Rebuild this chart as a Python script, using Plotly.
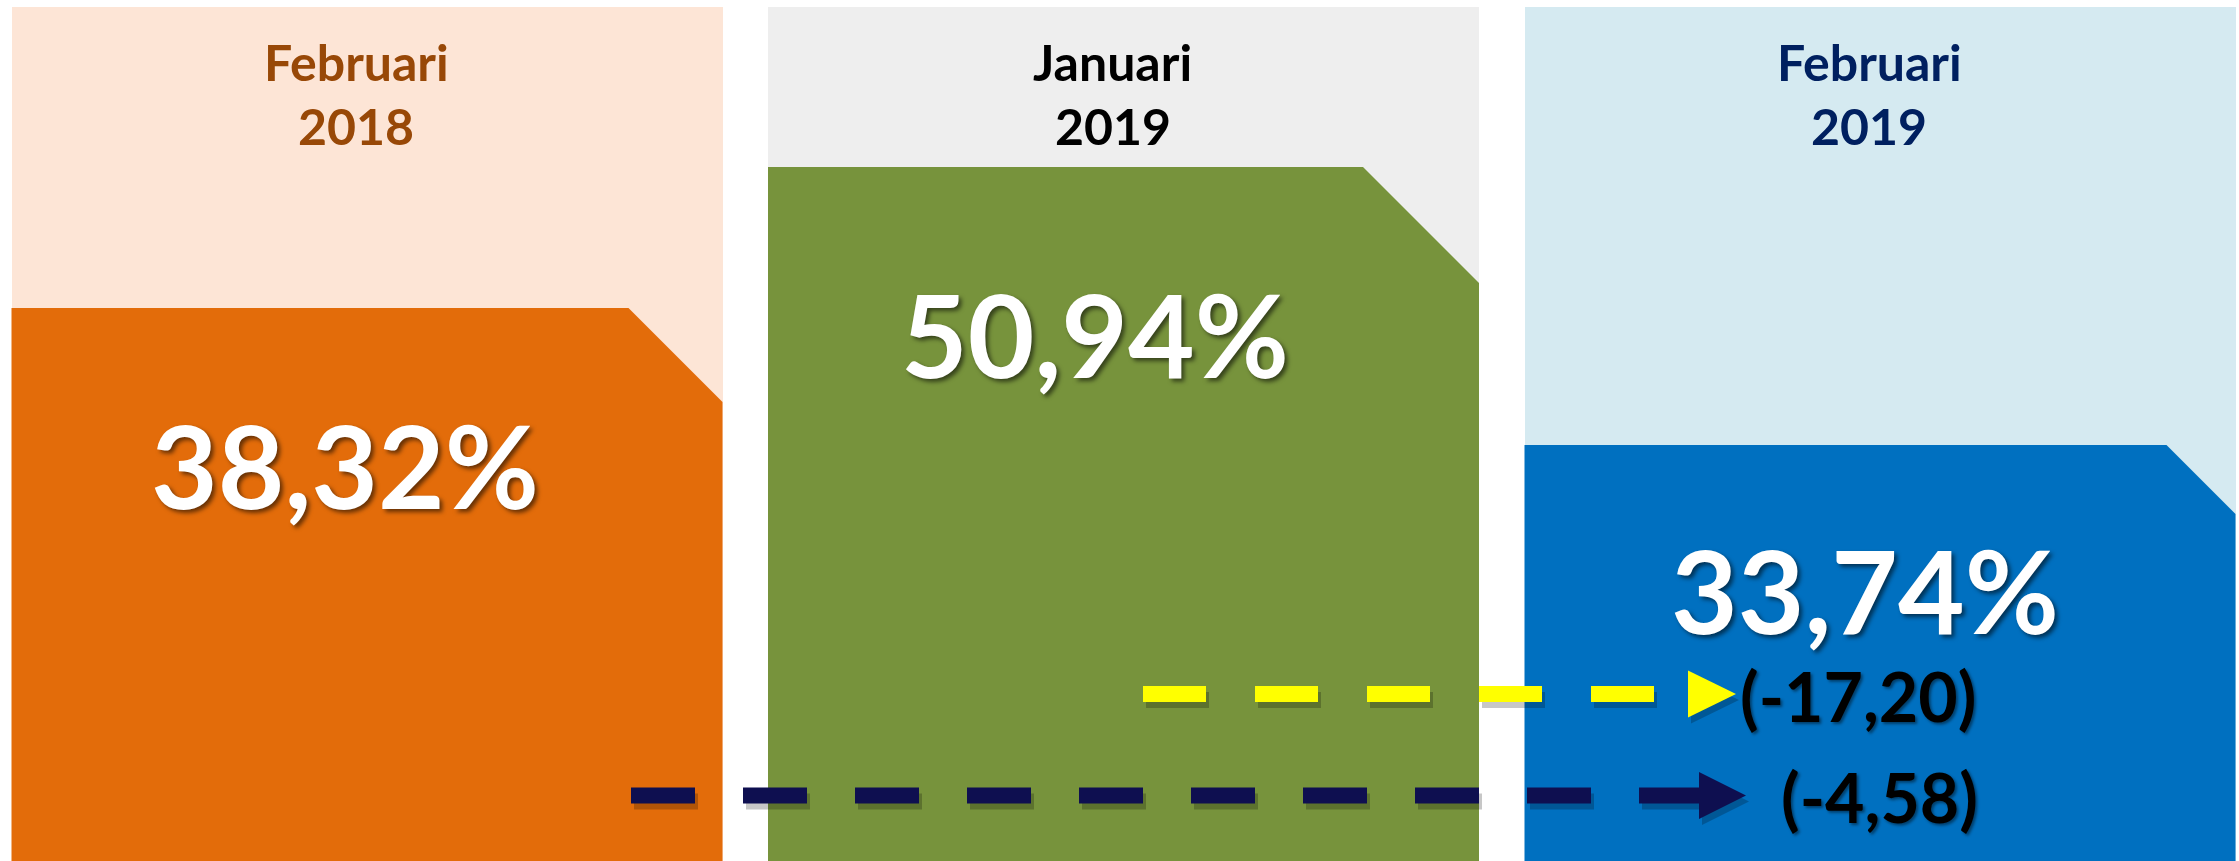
import plotly.graph_objects as go

# ---------------- data ----------------
periods = ["Februari", "Januari", "Februari"]
years = ["2018", "2019", "2019"]
rates = [38.32, 50.94, 33.74]
# visual height of each coloured block (infographic scale, not proportional)
block_heights = [553, 694, 416]
change_pairs = [(1, 2), (0, 2)]          # Jan 2019 -> Feb 2019, Feb 2018 -> Feb 2019
changes = [-17.20, -4.58]

# ---------------- styles ----------------
bg_colors = ["#FDE5D6", "#EEEEEE", "#D5EAF1"]
fill_colors = ["#E36C0A", "#77933C", "#0070C0"]
title_colors = ["#984807", "#000000", "#002060"]
arrow_colors = ["#FFFF00", "#0E0F50"]
FONT = "Lato, 'Open Sans', sans-serif"

W, H = 2239, 861
PX = 756.5          # pixels per category unit
X0 = 367            # pixel position of category 0
bar_w = 711 / PX
panel_top = 854
cut = [94, 116, 69]  # cut-corner size (px)
title_shift = -11 / PX


def fmt(v, pct=False):
    s = f"{abs(v):.2f}".replace(".", ",")
    if v < 0:
        s = "-" + s
    return s + ("%" if pct else "")


fig = go.Figure()

# background panels
fig.add_trace(go.Bar(x=[0, 1, 2], y=[panel_top] * 3, width=bar_w,
                     marker=dict(color=bg_colors, line=dict(width=0)),
                     hoverinfo="skip"))

# coloured blocks with a cut top-right corner
for i, h in enumerate(block_heights):
    xl, xr = i - bar_w / 2, i + bar_w / 2
    c = cut[i]
    xs = [xl, xl, xr - c / PX, xr, xr, xl]
    ys = [0, h, h, h - c, 0, 0]
    fig.add_trace(go.Scatter(x=xs, y=ys, mode="lines", fill="toself",
                             fillcolor=fill_colors[i], line=dict(width=0),
                             hoverinfo="skip"))

# arrows (layout positions in px)
arrow_geo = [
    dict(x0=1143, x1=1654, hx0=1688, hx1=1736, y=861 - 694, dash="63px,49px", lx=1738),
    dict(x0=631, x1=1701, hx0=1699, hx1=1746, y=861 - 795.5, dash="64px,48px", lx=1779),
]
half_head = 23.5

def px2x(p):
    return (p - X0) / PX

for k, g in enumerate(arrow_geo):
    # shadow, then the arrow itself
    for dx, dy, col in [(3, -6, "rgba(0,0,0,0.22)"), (0, 0, arrow_colors[k])]:
        fig.add_trace(go.Scatter(x=[px2x(g["x0"] + dx), px2x(g["x1"] + dx)],
                                 y=[g["y"] + dy, g["y"] + dy], mode="lines",
                                 line=dict(color=col, width=16, dash=g["dash"]),
                                 hoverinfo="skip"))
        fig.add_trace(go.Scatter(
            x=[px2x(g["hx0"] + dx), px2x(g["hx1"] + dx), px2x(g["hx0"] + dx), px2x(g["hx0"] + dx)],
            y=[g["y"] + dy + half_head, g["y"] + dy, g["y"] + dy - half_head, g["y"] + dy + half_head],
            mode="lines", fill="toself", fillcolor=col, line=dict(width=0),
            hoverinfo="skip"))

annotations = []
# titles
for i in range(3):
    annotations.append(dict(x=i + title_shift, y=861 - 62, text=periods[i], showarrow=False,
                            xanchor="center", yanchor="middle",
                            font=dict(family=FONT, size=50, color=title_colors[i], weight=700)))
    annotations.append(dict(x=i + title_shift, y=861 - 125.5, text=years[i], showarrow=False,
                            xanchor="center", yanchor="middle",
                            font=dict(family=FONT, size=50, color=title_colors[i], weight=700)))

# big values
val_pos = [(345, 861 - 463.5), (1095, 861 - 332.5), (1865, 861 - 588.5)]
for i, v in enumerate(rates):
    px, py = val_pos[i]
    annotations.append(dict(x=px2x(px), y=py, text=fmt(v, pct=True), showarrow=False,
                            xanchor="center", yanchor="middle",
                            font=dict(family=FONT, size=115, color="white", weight=700,
                                      shadow="3px 3px 4px rgba(0,0,0,0.55)")))

# change labels
for k, g in enumerate(arrow_geo):
    annotations.append(dict(x=px2x(g["lx"]), y=g["y"] - 1, text="(" + fmt(changes[k]) + ")",
                            showarrow=False, xanchor="left", yanchor="middle",
                            font=dict(family=FONT, size=68, color="black", weight=700,
                                      shadow="2px 2px 3px rgba(0,0,0,0.45)")))

fig.update_layout(
    width=W, height=H, autosize=False,
    margin=dict(l=0, r=0, t=0, b=0, pad=0),
    paper_bgcolor="white", plot_bgcolor="white",
    showlegend=False, hovermode=False,
    xaxis=dict(range=[px2x(0), px2x(W)], visible=False, fixedrange=True),
    yaxis=dict(range=[0, H], visible=False, fixedrange=True),
    annotations=annotations,
    bargap=0,
)

fig.write_html("out.html", post_script="document.body.style.margin='0';",
               config={"displayModeBar": False})
